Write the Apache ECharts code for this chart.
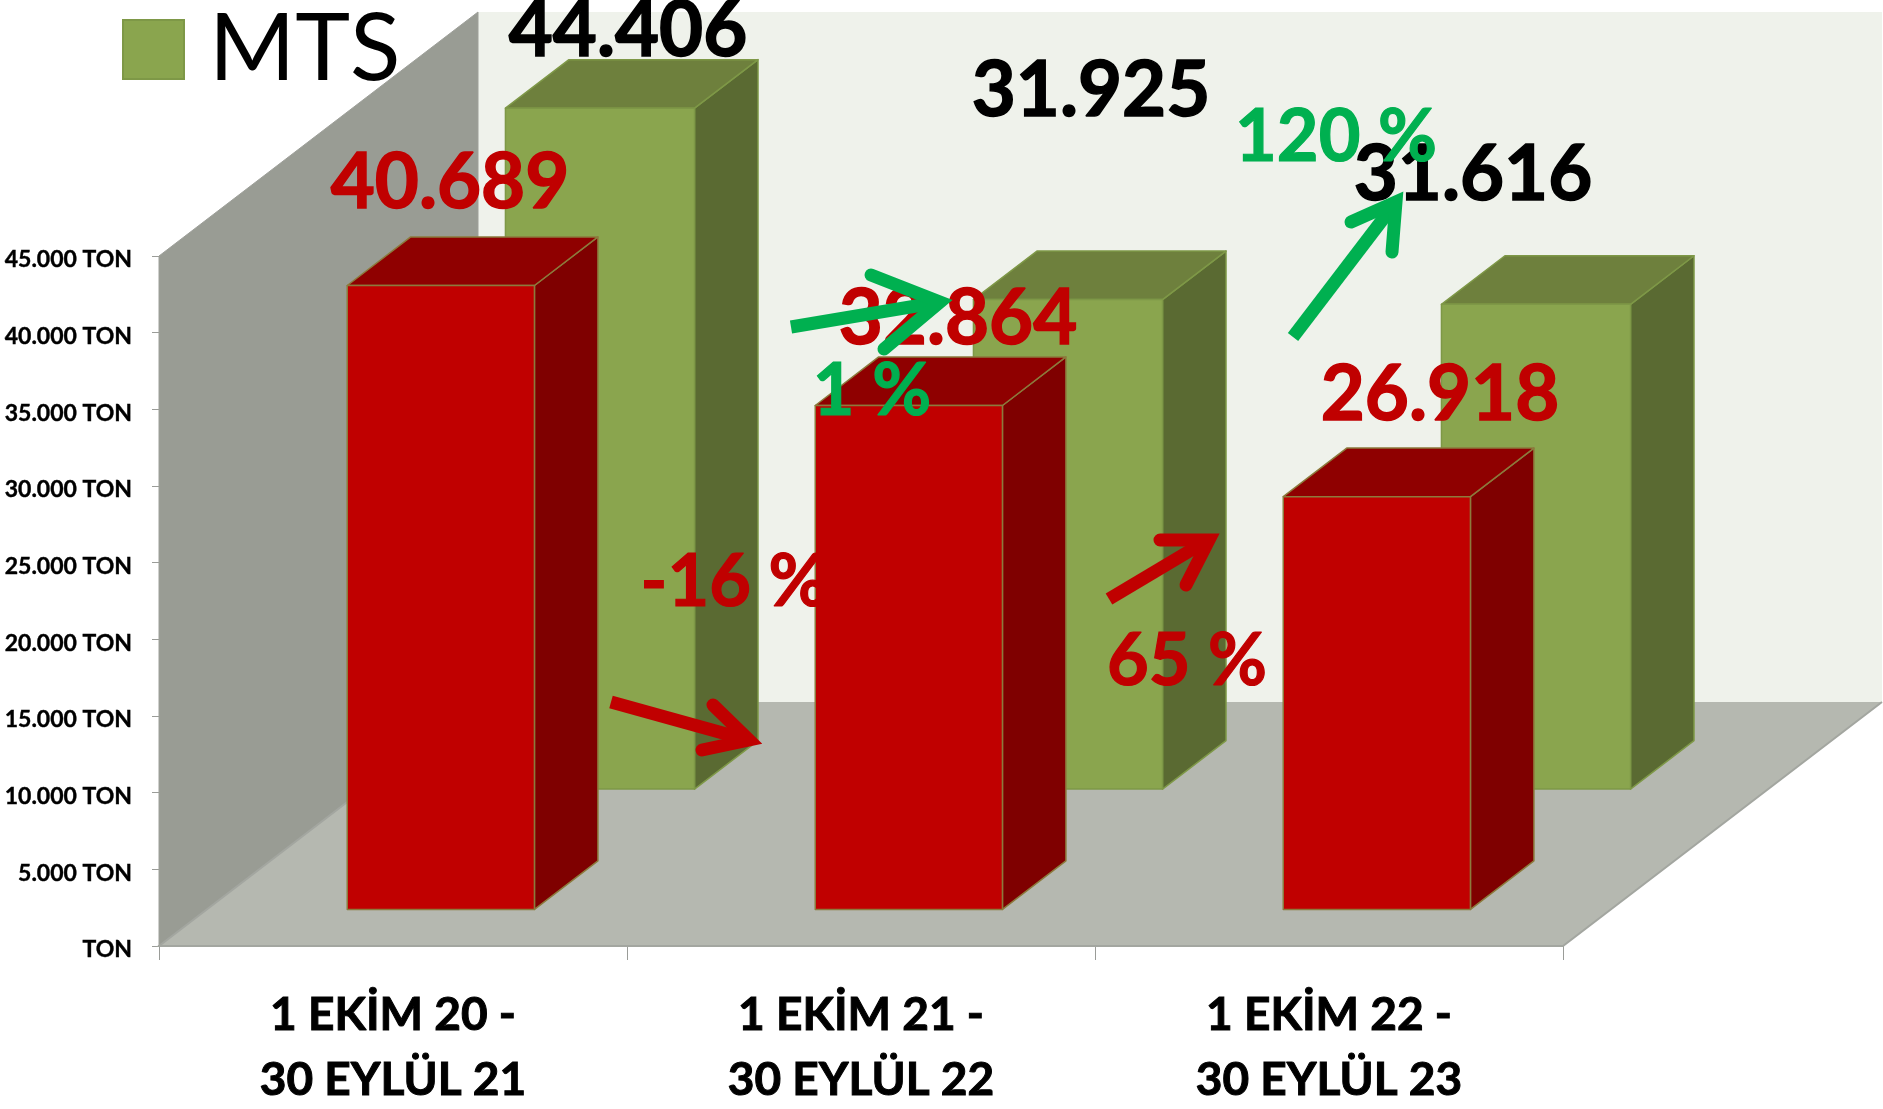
<!DOCTYPE html>
<html><head><meta charset="utf-8">
<style>html,body{margin:0;padding:0;background:#fff}#c{width:1883px;height:1109px}</style>
<script src="https://cdn.jsdelivr.net/npm/echarts@6/dist/echarts.min.js"></script>
</head><body><div id="c"></div>
<script>
// ---- data ----
const categories = ['1 EKİM 20 -\n30 EYLÜL 21', '1 EKİM 21 -\n30 EYLÜL 22', '1 EKİM 22 -\n30 EYLÜL 23'];
const redValues = [40689, 32864, 26918];
const mtsValues = [44406, 31925, 31616];
const changeLabels = ['-16 %', '65 %', '1 %', '120 %'];
const legendName = 'MTS';

// ---- look ----
const FONT = 'Lato';
const DEPTH_X = 319, DEPTH_Y = 244;         // floor depth projection in pixels
const RED = {front:'#C00000', side:'#7F0000', top:'#8F0000', edge:'#8C7A3C', d0:0.150, d1:0.349, halfW:0.200, shift:0};
const GREEN = {front:'#8AA54E', side:'#5A6A32', top:'#6E803D', edge:'#7E9847', d0:0.643, d1:0.842, halfW:0.202, shift:0.004};
const redLabelCentres = [[450,183],[958,319],[1440,395]];
const mtsLabelCentres = [[628,31],[1091,91],[1473,175]];
const fmt = v => String(v).replace(/\B(?=(\d{3})+$)/g, '.');

function projector(api, cat) {
  const w = api.size([1, 0])[0];
  return (off, val, depth) => {
    const p = api.coord([cat, val]);
    return [p[0] + off * w + depth * DEPTH_X, p[1] - depth * DEPTH_Y];
  };
}
function face(points, fill, stroke, z2) {
  return {type:'polygon', z2:z2||0, shape:{points},
    style:{fill, stroke:stroke||null, lineWidth:stroke?1.5:0, lineJoin:'round'}};
}
function barRender(st, centres) {
  return (params, api) => {
    const cat = api.value(0), val = api.value(1);
    const P = projector(api, cat);
    const s = st.shift, l = s - st.halfW, r = s + st.halfW, a = st.d0, b = st.d1;
    const colour = centres === redLabelCentres ? '#C00000' : '#000';
    return {type:'group', children:[
      face([P(r,0,a),P(r,val,a),P(r,val,b),P(r,0,b)], st.side, st.edge, 1),
      face([P(l,val,a),P(r,val,a),P(r,val,b),P(l,val,b)], st.top, st.edge, 1),
      face([P(l,0,a),P(r,0,a),P(r,val,a),P(l,val,a)], st.front, st.edge, 2),
      {type:'text', z2:5, x:centres[params.dataIndex][0], y:centres[params.dataIndex][1],
       style:{text:fmt(val), font:'bold 76px '+FONT, fill:colour, stroke:colour, lineWidth:1.5,
              textAlign:'center', textVerticalAlign:'middle'}}
    ]};
  };
}
function roomRender(params, api) {
  const L = projector(api, 0), R = projector(api, 2);
  const top = 45000;
  return {type:'group', children:[
    face([L(-.5,0,1),L(-.5,top,1),R(.5,top,1),R(.5,0,1)], '#EFF2EB'),
    {type:'polygon', shape:{points:[L(-.5,0,0),L(-.5,top,0),L(-.5,top,1),L(-.5,0,1)]},
     style:{fill:'#999C94', stroke:'#9EA09A', lineWidth:1}},
    {type:'polygon', shape:{points:[L(-.5,0,0),R(.5,0,0),R(.5,0,1),L(-.5,0,1)]},
     style:{fill:'#B5B8B0'}},
    {type:'polyline', shape:{points:[L(-.5,0,1),L(-.5,0,0),R(.5,0,0),R(.5,0,1)]},
     style:{stroke:'#A3A6A0', lineWidth:2, fill:null}}
  ]};
}
function arrow(line, head, color, width) {
  return [
    {type:'polyline', z:100, shape:{points:line}, style:{stroke:color, lineWidth:width, fill:null, lineCap:'butt'}},
    {type:'polyline', z:100, shape:{points:head}, style:{stroke:color, lineWidth:width, fill:null, lineCap:'round', lineJoin:'miter', miterLimit:10}}
  ];
}
function changeText(text, x, y, color) {
  return {type:'text', z:101, x, y, style:{text, font:'bold 72px '+FONT, fill:color, stroke:color, lineWidth:1.2, textAlign:'center', textVerticalAlign:'middle'}};
}
const GREEN_A = '#00B050', RED_A = '#C00000';
const overlays = [
  ...arrow([[611,702],[748,740]], [[713,705],[749,740],[702,750]], RED_A, 13),
  ...arrow([[1109,599],[1208,540]], [[1160,540],[1209,540],[1186,585]], RED_A, 13),
  ...arrow([[791,327],[940,302]], [[871,275],[940,302],[884,349]], GREEN_A, 13),
  ...arrow([[1293,337],[1396,202]], [[1351,222],[1396,202],[1392,252]], GREEN_A, 13),
  changeText(changeLabels[0], 734, 583, RED_A),
  changeText(changeLabels[1], 1187, 662, RED_A),
  changeText(changeLabels[2], 872, 392, GREEN_A),
  changeText(changeLabels[3], 1336, 138, GREEN_A)
];

const chart = echarts.init(document.getElementById('c'), null, {renderer:'canvas'});
chart.setOption({
  animation:false,
  backgroundColor:'#fff',
  grid:{left:159, right:320, top:256, bottom:163, outerBoundsMode:'none'},
  legend:{left:117, top:-2, data:[{name:legendName, icon:'rect'}], itemWidth:61, itemHeight:59, itemGap:0,
          textStyle:{fontFamily:FONT, fontSize:93, color:'#000', padding:[0,0,0,20]}},
  xAxis:{type:'category', data:categories,
    axisLine:{lineStyle:{color:'#9A9C98', width:2}},
    axisTick:{show:true, length:14, lineStyle:{color:'#9A9C98', width:1}},
    axisLabel:{fontFamily:FONT, fontWeight:'bold', fontSize:46, color:'#000', lineHeight:65, margin:37, interval:0,
      textBorderColor:'#000', textBorderWidth:1}},
  yAxis:{type:'value', min:0, max:45000, interval:5000,
    splitLine:{show:false},
    axisLine:{show:true, lineStyle:{color:'#9A9C98', width:1}},
    axisTick:{show:true, length:7, lineStyle:{color:'#9A9C98', width:1}},
    axisLabel:{fontFamily:FONT, fontWeight:'bold', fontSize:23, color:'#000', margin:27, verticalAlign:'top', lineHeight:8,
      textBorderColor:'#000', textBorderWidth:0.4,
      formatter:v => v ? fmt(v)+' TON' : 'TON'}},
  series:[
    {type:'custom', name:'room', silent:true, z:1, data:[[0,0]], renderItem:roomRender, encode:{x:0,y:1}, clip:false},
    {type:'custom', name:legendName, z:2, itemStyle:{color:GREEN.front, borderColor:GREEN.edge, borderWidth:1},
     data:mtsValues.map((v,i)=>[i,v]), renderItem:barRender(GREEN, mtsLabelCentres), encode:{x:0,y:1}, clip:false},
    {type:'custom', name:'Toplam', z:3, itemStyle:{color:RED.front},
     data:redValues.map((v,i)=>[i,v]), renderItem:barRender(RED, redLabelCentres), encode:{x:0,y:1}, clip:false}
  ],
  graphic:{elements:overlays}
});
</script></body></html>
